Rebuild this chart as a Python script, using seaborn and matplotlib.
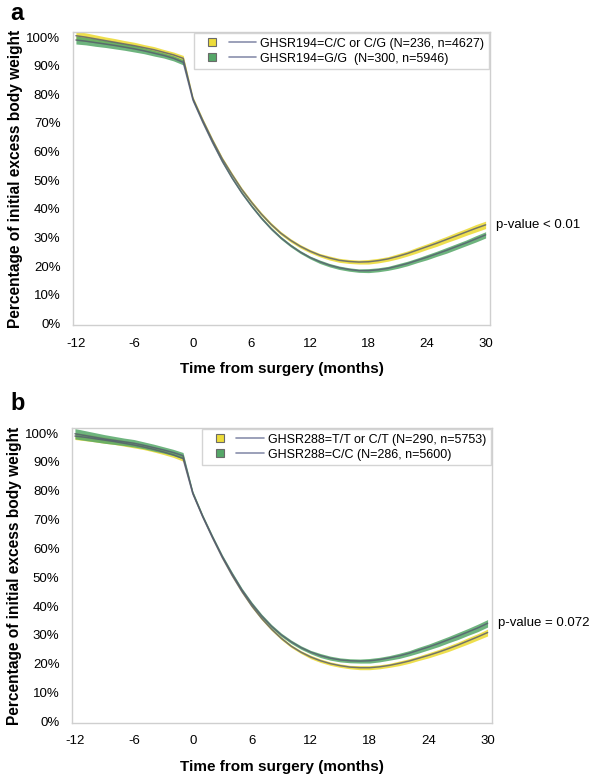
import numpy as np
import pandas as pd
import matplotlib
matplotlib.use("Agg")
import matplotlib.pyplot as plt
import matplotlib.transforms as mtransforms
import seaborn as sns
from matplotlib.lines import Line2D
from matplotlib.legend_handler import HandlerTuple
from matplotlib.ticker import PercentFormatter

# months relative to surgery
months = list(range(-12, 31))

# panel a: GHSR194
a_ccg = [100.5, 100.0, 99.4, 98.8, 98.2, 97.6, 97.0, 96.3, 95.6, 94.7, 93.8, 92.6,
         78.5, 71.0, 64.0, 57.5, 52.0, 46.8, 42.3, 38.2, 34.6, 31.5, 29.0, 26.9, 25.2,
         23.8, 22.8, 22.0, 21.6, 21.4, 21.5, 21.9, 22.5, 23.4, 24.4, 25.6, 26.8, 28.0,
         29.3, 30.6, 31.9, 33.2, 34.4]
a_gg = [99.0, 98.6, 98.1, 97.6, 97.1, 96.5, 95.9, 95.2, 94.4, 93.6, 92.6, 91.2,
        78.0, 70.3, 63.2, 56.6, 50.8, 45.6, 41.0, 36.8, 33.1, 29.9, 27.2, 24.9, 23.0,
        21.5, 20.3, 19.4, 18.8, 18.4, 18.4, 18.7, 19.2, 20.0, 20.9, 22.0, 23.1, 24.3,
        25.5, 26.8, 28.1, 29.5, 30.9]
a_ccg_ci = [1.6, 1.5, 1.4, 1.3, 1.3, 1.2, 1.2, 1.1, 1.1, 1.0, 1.0, 1.0,
            0.7, 0.6, 0.6, 0.6, 0.6, 0.6, 0.6, 0.6, 0.6, 0.6, 0.6, 0.6, 0.6,
            0.6, 0.7, 0.7, 0.7, 0.7, 0.8, 0.8, 0.8, 0.9, 0.9, 1.0, 1.0, 1.1,
            1.1, 1.2, 1.2, 1.3, 1.3]
a_gg_ci = [1.4, 1.3, 1.3, 1.2, 1.2, 1.1, 1.1, 1.0, 1.0, 0.9, 0.9, 0.9,
           0.6, 0.5, 0.5, 0.5, 0.5, 0.5, 0.5, 0.5, 0.5, 0.5, 0.5, 0.5, 0.5,
           0.6, 0.6, 0.6, 0.6, 0.6, 0.7, 0.7, 0.7, 0.8, 0.8, 0.8, 0.9, 0.9,
           1.0, 1.0, 1.0, 1.1, 1.1]

# panel b: GHSR288
b_ttct = [99.0, 98.6, 98.1, 97.6, 97.1, 96.5, 95.9, 95.2, 94.4, 93.5, 92.5, 91.2,
          79.0, 71.0, 63.7, 56.8, 50.6, 45.0, 40.0, 35.7, 32.0, 28.8, 26.1, 24.0, 22.3,
          21.0, 20.0, 19.3, 18.8, 18.6, 18.6, 18.9, 19.4, 20.1, 20.9, 21.9, 22.9, 24.0,
          25.2, 26.5, 27.9, 29.3, 30.8]
b_cc = [99.8, 99.2, 98.6, 98.0, 97.5, 97.0, 96.5, 95.8, 95.0, 94.2, 93.3, 92.2,
        79.2, 71.2, 64.0, 57.2, 51.2, 45.6, 40.8, 36.6, 33.0, 30.0, 27.6, 25.6, 24.0,
        22.8, 21.9, 21.3, 21.0, 20.9, 21.0, 21.4, 22.0, 22.7, 23.6, 24.7, 25.8, 27.0,
        28.3, 29.6, 31.0, 32.4, 34.0]
b_ttct_ci = [1.2, 1.2, 1.1, 1.1, 1.0, 1.0, 1.0, 0.9, 0.9, 0.9, 0.9, 0.9,
             0.6, 0.5, 0.5, 0.5, 0.5, 0.5, 0.5, 0.5, 0.5, 0.5, 0.5, 0.5, 0.6,
             0.6, 0.6, 0.6, 0.6, 0.7, 0.7, 0.7, 0.7, 0.8, 0.8, 0.8, 0.9, 0.9,
             1.0, 1.0, 1.1, 1.1, 1.2]
b_cc_ci = [1.8, 1.7, 1.6, 1.5, 1.4, 1.3, 1.3, 1.2, 1.2, 1.1, 1.1, 1.1,
           0.7, 0.6, 0.6, 0.6, 0.6, 0.6, 0.6, 0.6, 0.6, 0.6, 0.6, 0.6, 0.6,
           0.7, 0.7, 0.7, 0.7, 0.7, 0.8, 0.8, 0.8, 0.9, 0.9, 1.0, 1.0, 1.1,
           1.1, 1.2, 1.2, 1.3, 1.3]

labels_a = ["GHSR194=C/C or C/G (N=236, n=4627)", "GHSR194=G/G  (N=300, n=5946)"]
labels_b = ["GHSR288=T/T or C/T (N=290, n=5753)", "GHSR288=C/C (N=286, n=5600)"]
pvals = ["p-value < 0.01", "p-value = 0.072"]

yellow = "#EDDC3A"
green = "#55A768"
line_col = "#555a70"
legend_line = "#8a90ad"

sns.set_style("white")
plt.rcParams["font.family"] = ["Liberation Sans", "DejaVu Sans"]
plt.rcParams["axes.unicode_minus"] = False
plt.rcParams["text.color"] = "black"
plt.rcParams["axes.labelcolor"] = "black"
plt.rcParams["xtick.labelcolor"] = "black"
plt.rcParams["ytick.labelcolor"] = "black"

fig = plt.figure(figsize=(6.02, 7.81), dpi=100)
W, H = 602, 781
ax_a = fig.add_axes([73 / W, 1 - 325 / H, 417 / W, 293 / H])
ax_b = fig.add_axes([72 / W, 1 - 723 / H, 420 / W, 295 / H])


def panel(ax, s1, s2, c1, c2, labels, pval, top_series):
    df = pd.DataFrame({"month": months * 2,
                       "pct": s1 + s2,
                       "group": [labels[0]] * len(months) + [labels[1]] * len(months)})
    ax.fill_between(months, np.array(s1) - np.array(c1), np.array(s1) + np.array(c1),
                    color=yellow, lw=0, alpha=0.9)
    ax.fill_between(months, np.array(s2) - np.array(c2), np.array(s2) + np.array(c2),
                    color=green, lw=0, alpha=0.85)
    sns.lineplot(data=df, x="month", y="pct", hue="group",
                 palette=[line_col, line_col], lw=1.1, alpha=0.8,
                 legend=False, ax=ax)
    ax.set_xlim(-12.3, 30.45)
    ax.set_ylim(-0.6, 101.8)
    ax.set_xticks([-12, -6, 0, 6, 12, 18, 24, 30])
    ax.set_yticks(range(0, 101, 10))
    ax.yaxis.set_major_formatter(PercentFormatter(decimals=0))
    ax.tick_params(axis="both", direction="out", length=4, width=1,
                   color="#b8b8b8", labelsize=9.5, pad=5, labelcolor="black")
    for sp in ax.spines.values():
        sp.set_color("#cfcfcf")
        sp.set_linewidth(1)
    ax.set_xlabel("Time from surgery (months)", fontsize=11, fontweight="bold",
                  labelpad=9, color="black")
    ax.set_ylabel("Percentage of initial excess body weight", fontsize=11.2,
                  fontweight="bold", color="black")
    ax.yaxis.set_label_coords(-0.12, 0.5)

    handles = []
    for col in (yellow, green):
        mk = Line2D([], [], ls="none", marker="s", markersize=5.5,
                    markerfacecolor=col, markeredgecolor="#6a6a6a", markeredgewidth=0.8)
        ln = Line2D([], [], color=legend_line, lw=1.2)
        handles.append((mk, ln))
    leg = ax.legend(handles, labels, handler_map={tuple: HandlerTuple(ndivide=2, pad=0.2)},
                    loc="upper right", fontsize=9, handlelength=4.6, handletextpad=0.35,
                    labelspacing=0.25, borderpad=0.35, borderaxespad=0.1,
                    frameon=True, fancybox=False, edgecolor="#d4d4d4", framealpha=1)
    leg.get_frame().set_linewidth(1)
    for t in leg.get_texts():
        t.set_color("black")

    tr = mtransforms.blended_transform_factory(ax.transAxes, ax.transData)
    ax.text(1.015, top_series[-1], pval, transform=tr, fontsize=9.5,
            va="center", ha="left", color="black")


panel(ax_a, a_ccg, a_gg, a_ccg_ci, a_gg_ci, labels_a, pvals[0], a_ccg)
panel(ax_b, b_ttct, b_cc, b_ttct_ci, b_cc_ci, labels_b, pvals[1], b_cc)

fig.text(10 / W, 1 - 13 / H, "a", fontsize=17, fontweight="bold", va="center", ha="left")
fig.text(10 / W, 1 - 403 / H, "b", fontsize=17, fontweight="bold", va="center", ha="left")

fig.savefig("out.png", dpi=100)
